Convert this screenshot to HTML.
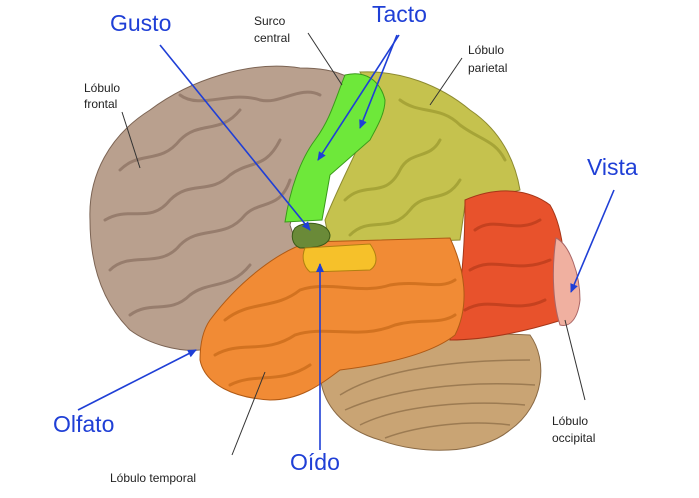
<!DOCTYPE html>
<html><head><meta charset="utf-8"><style>
html,body{margin:0;padding:0;background:#fff;}
svg{display:block}
.b{font-family:"Liberation Sans",sans-serif;fill:#1f3fd6;font-size:23px}
.s{font-family:"Liberation Sans",sans-serif;fill:#222;font-size:12px}
</style></head><body>
<svg width="699" height="498" viewBox="0 0 699 498" xmlns="http://www.w3.org/2000/svg">
<defs>
<marker id="a" markerWidth="10" markerHeight="10" refX="8" refY="4" orient="auto" markerUnits="userSpaceOnUse"><path d="M0,0 L9,4 L0,8 Z" fill="#1f3fd6"/></marker>
</defs>
<!-- cerebellum -->
<path d="M320,370 C360,345 450,330 530,335 C548,360 545,405 510,430 C480,455 420,455 380,440 C345,430 320,405 320,370 Z" fill="#c9a474" stroke="#8a6a45" stroke-width="1"/>
<g stroke="#8a6a45" stroke-width="1.5" fill="none" opacity="0.7">
<path d="M340,395 C380,370 450,360 530,360"/><path d="M345,410 C390,390 460,380 535,385"/><path d="M360,425 C400,405 470,400 525,405"/><path d="M385,438 C420,425 470,420 510,425"/>
</g>
<!-- frontal -->
<path d="M300,68 C250,60 190,80 150,110 C110,135 88,175 90,220 C90,260 100,300 130,330 C150,345 180,352 200,350 C215,330 250,300 300,255 L290,225 C300,180 330,130 350,78 C335,70 318,68 300,68 Z" fill="#b9a08e" stroke="#7c6454" stroke-width="1"/>
<g stroke="#8c7262" stroke-width="3" fill="none" stroke-linecap="round" opacity="0.75">
<path d="M120,170 C140,150 160,165 180,140 C200,120 220,135 240,110"/>
<path d="M105,220 C130,205 150,225 170,200 C190,180 210,195 230,175 C250,160 265,170 280,140"/>
<path d="M110,270 C130,250 160,270 180,245 C200,225 225,240 245,215 C260,200 280,210 290,180"/>
<path d="M130,315 C150,300 170,315 190,295 C210,280 230,290 250,265"/>
<path d="M180,95 C200,110 230,90 260,100 C280,105 300,85 320,95"/>
</g>
<!-- parietal -->
<path d="M360,72 C400,70 440,85 470,110 C500,130 515,160 520,190 L465,205 L460,240 L330,245 L325,220 C345,170 370,130 375,100 Z" fill="#c5c24e" stroke="#8d8a30" stroke-width="1"/>
<g stroke="#9c9a30" stroke-width="3" fill="none" stroke-linecap="round" opacity="0.75">
<path d="M345,200 C365,180 385,200 400,170 C410,150 430,160 440,140"/>
<path d="M350,235 C370,215 390,235 410,210 C425,190 445,205 460,180"/>
<path d="M400,100 C420,115 440,105 460,125 C480,140 495,140 505,160"/>
</g>
<!-- occipital -->
<path d="M465,200 C500,185 530,190 550,205 C565,230 568,280 562,320 C530,330 490,340 450,340 C460,300 465,260 465,200 Z" fill="#e8522c" stroke="#a63618" stroke-width="1"/>
<g stroke="#b73a1a" stroke-width="3" fill="none" stroke-linecap="round" opacity="0.7">
<path d="M475,230 C495,215 515,235 540,220"/><path d="M470,270 C495,255 515,275 550,260"/><path d="M465,310 C490,295 515,315 545,300"/>
</g>
<path d="M556,238 C570,245 580,275 580,300 C578,318 570,328 560,325 C552,300 552,265 556,238 Z" fill="#f0b0a0" stroke="#a66" stroke-width="1"/>
<!-- temporal -->
<path d="M210,320 C240,280 280,250 310,242 L450,238 C465,270 470,305 455,335 C430,355 380,365 340,370 C320,385 300,400 270,400 C235,398 205,385 200,360 C200,345 203,330 210,320 Z" fill="#f18b35" stroke="#b05a15" stroke-width="1"/>
<g stroke="#c86a1a" stroke-width="3" fill="none" stroke-linecap="round" opacity="0.75">
<path d="M225,320 C250,300 275,310 300,290 C330,280 360,295 390,285 C420,280 440,290 455,280"/>
<path d="M215,355 C240,340 265,355 295,335 C325,325 360,340 395,325 C420,318 440,325 455,315"/>
<path d="M230,385 C255,372 280,385 310,365"/>
</g>
<!-- green strip -->
<path d="M345,75 C365,70 380,80 385,100 C385,115 375,130 370,140 L330,175 L322,220 L285,222 C290,190 300,160 315,140 C330,120 335,100 345,75 Z" fill="#6ee83a" stroke="#3a9a1a" stroke-width="1"/>
<path d="M295,228 C305,220 328,222 330,235 C330,245 318,248 300,248 C292,245 290,235 295,228 Z" fill="#6a8a38" stroke="#3a5a18" stroke-width="1"/>
<path d="M305,248 L370,244 C378,255 378,265 370,270 L310,272 C302,265 302,255 305,248 Z" fill="#f6c12a" stroke="#b08010" stroke-width="1"/>
<!-- black leader lines -->
<g stroke="#333" stroke-width="1" fill="none">
<line x1="308" y1="33" x2="342" y2="85"/>
<line x1="462" y1="58" x2="430" y2="105"/>
<line x1="122" y1="112" x2="140" y2="168"/>
<line x1="585" y1="400" x2="565" y2="320"/>
<line x1="232" y1="455" x2="265" y2="372"/>
</g>
<!-- blue arrows -->
<g stroke="#1f3fd6" stroke-width="1.6" fill="none" marker-end="url(#a)">
<line x1="160" y1="45" x2="310" y2="230"/>
<line x1="399" y1="35" x2="318" y2="160"/>
<line x1="397" y1="35" x2="360" y2="128"/>
<line x1="614" y1="190" x2="571" y2="292"/>
<line x1="78" y1="410" x2="196" y2="350"/>
<line x1="320" y1="450" x2="320" y2="264"/>
</g>
<text class="b" x="110" y="31">Gusto</text>
<text class="b" x="372" y="22">Tacto</text>
<text class="b" x="587" y="175">Vista</text>
<text class="b" x="53" y="432">Olfato</text>
<text class="b" x="290" y="470">Oído</text>
<text class="s" x="254" y="25">Surco</text>
<text class="s" x="254" y="42">central</text>
<text class="s" x="468" y="54">Lóbulo</text>
<text class="s" x="468" y="72">parietal</text>
<text class="s" x="84" y="92">Lóbulo</text>
<text class="s" x="84" y="108">frontal</text>
<text class="s" x="552" y="425">Lóbulo</text>
<text class="s" x="552" y="442">occipital</text>
<text class="s" x="110" y="482">Lóbulo temporal</text>
</svg>
</body></html>
